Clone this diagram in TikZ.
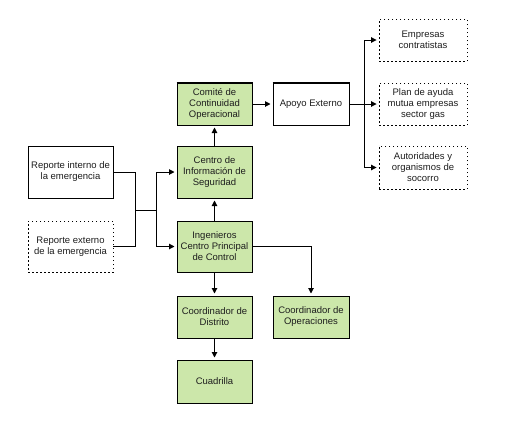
\documentclass[tikz,border=0pt]{standalone}
\usepackage{fontspec}
\setmainfont{Liberation Sans}
\usetikzlibrary{arrows.meta}
\definecolor{boxgreen}{RGB}{204,231,170}
\definecolor{boxtext}{RGB}{30,30,30}

\begin{document}
\begin{tikzpicture}[
    x=1pt, y=-1pt,
    every node/.style={align=center, inner sep=1pt, text=boxtext,
        font=\fontsize{9.5}{11}\selectfont},
    LinkArrow/.style={line width=1pt, draw=black,
        -{Triangle[length=5.5pt,width=5.5pt]}, shorten >=2pt},
    LinkLine/.style={line width=1pt, draw=black},
    GreenShape/.style={rectangle, line width=1pt, draw=black,
        fill=boxgreen, minimum width=75pt, minimum height=42pt},
    PlainShape/.style={rectangle, line width=1pt, draw=black,
        fill=white, minimum width=76pt, minimum height=42pt},
    DottedShape/.style={rectangle, line width=0.9pt, draw=black,
        dash pattern=on 1.5pt off 2.5pt, minimum width=88pt,
        minimum height=42pt}
]
\useasboundingbox (0,0) rectangle (506,424);

% main column
\node (comite) [GreenShape] at (214.5,104)
    {Comité de\\Continuidad\\Operacional};
\node (centro) [GreenShape, minimum height=52pt] at (214.5,172)
    {Centro de\\Información de\\Seguridad};
\node (ingenieros) [GreenShape, minimum height=51pt] at (214.5,246.5)
    {Ingenieros\\Centro Principal\\de Control};
\node (distrito) [GreenShape] at (214.5,317) {Coordinador de\\Distrito};
\node (cuadrilla) [GreenShape, minimum height=43pt] at (214.5,381.5)
    {Cuadrilla};
\node (operaciones) [GreenShape, minimum width=76pt] at (311,317)
    {Coordinador de\\Operaciones};

% reports
\node (repinterno) [PlainShape, minimum width=85pt, minimum height=52pt]
    at (70.5,172) {Reporte interno de\\la emergencia};
\node (repexterno) [DottedShape, minimum width=85pt, minimum height=51pt]
    at (70.5,246.5) {Reporte externo\\de la emergencia};

% external support
\node (apoyo) [PlainShape] at (311,104) {Apoyo Externo};
\node (empresas) [DottedShape] at (423,40) {Empresas\\contratistas};
\node (plan) [DottedShape] at (423,104)
    {Plan de ayuda\\mutua empresas\\sector gas};
\node (autoridades) [DottedShape, minimum height=43pt] at (423,167.5)
    {Autoridades y\\organismos de\\socorro};

% heavier top edges
\draw [line width=2pt] (comite.north west) -- (comite.north east);
\draw [line width=2pt] (apoyo.north west) -- (apoyo.north east);

\coordinate (join) at (135,210);
\coordinate (split) at (156,210);
\coordinate (branch) at (364,104);

\draw [LinkLine] (repinterno.east) -| (join);
\draw [LinkLine] (repexterno.east) -| (join);
\draw [LinkLine] (join) -- (split);
\draw [LinkArrow] (split) |- (centro.west);
\draw [LinkArrow] (split) |- (ingenieros.west);

\draw [LinkArrow] (ingenieros) -- (centro);
\draw [LinkArrow] (centro) -- (comite);
\draw [LinkArrow] (comite) -- (apoyo);

\draw [LinkLine] (apoyo.east) -- (branch);
\draw [LinkArrow] (branch) |- (empresas.west);
\draw [LinkArrow] (branch) -- (plan.west);
\draw [LinkArrow] (branch) |- (autoridades.west);

\draw [LinkArrow] (ingenieros) -- (distrito);
\draw [LinkArrow] (distrito) -- (cuadrilla);
\draw [LinkArrow] (ingenieros.east) -| (operaciones.north);
\end{tikzpicture}
\end{document}
